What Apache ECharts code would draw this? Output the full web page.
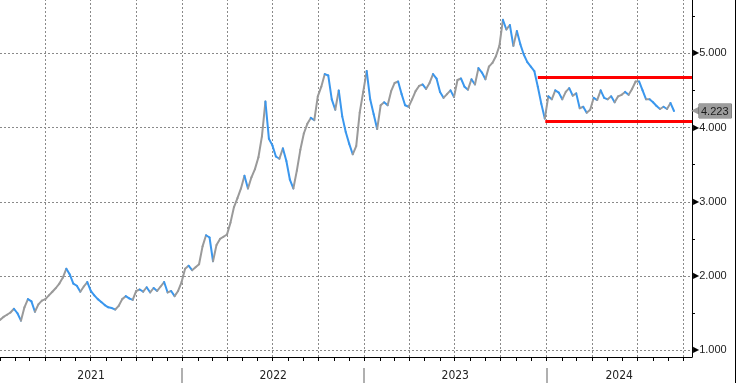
<!DOCTYPE html>
<html>
<head>
<meta charset="utf-8">
<script src="https://cdn.jsdelivr.net/npm/echarts@6/dist/echarts.min.js"></script>
<style>
html,body{margin:0;padding:0;background:#fff;}
#c{width:735px;height:383px;border-right:1px solid #000;}
</style>
</head>
<body>
<div id="c"></div>
<script>
// ---- data (weekly closes) ----
const startDate = [2021, 0, 1];
const endDate = [2024, 9, 19];
const stepDays = 7;
const values = [
1.41,1.45,1.48,1.51,1.56,1.50,1.40,1.58,1.69,1.66,
1.52,1.62,1.67,1.69,1.74,1.79,1.84,1.90,1.98,2.10,
2.02,1.90,1.87,1.79,1.86,1.92,1.80,1.74,1.69,1.65,
1.61,1.58,1.57,1.55,1.60,1.69,1.73,1.70,1.68,1.80,
1.82,1.79,1.85,1.78,1.84,1.80,1.86,1.92,1.78,1.80,
1.73,1.80,1.92,2.10,2.14,2.08,2.12,2.16,2.40,2.55,
2.52,2.20,2.42,2.50,2.53,2.56,2.72,2.93,3.05,3.18,
3.35,3.18,3.33,3.44,3.60,3.88,4.35,3.85,3.76,3.61,
3.58,3.72,3.55,3.30,3.18,3.42,3.70,3.92,4.05,4.13,
4.10,4.42,4.55,4.72,4.70,4.38,4.24,4.50,4.15,3.94,
3.78,3.64,3.75,4.20,4.48,4.76,4.38,4.18,3.98,4.30,
4.34,4.30,4.49,4.60,4.62,4.45,4.30,4.28,4.38,4.49,
4.56,4.58,4.52,4.60,4.72,4.66,4.48,4.40,4.45,4.50,
4.41,4.64,4.66,4.55,4.51,4.65,4.58,4.80,4.74,4.65,
4.82,4.87,4.96,5.10,5.45,5.32,5.38,5.10,5.30,5.12,
4.98,4.88,4.82,4.76,4.55,4.32,4.12,4.42,4.38,4.50,
4.47,4.38,4.48,4.53,4.43,4.46,4.26,4.28,4.20,4.24,
4.40,4.37,4.50,4.40,4.38,4.42,4.34,4.42,4.44,4.48,
4.44,4.52,4.62,4.62,4.50,4.38,4.38,4.34,4.29,4.25,
4.28,4.25,4.33,4.223
];
const yMin = 0.911, yMax = 5.717;
const yLabelValues = [1, 2, 3, 4, 5];
const yMinorValues = [1.5, 2.5, 3.5, 4.5, 5.5];
const years = [2021, 2022, 2023, 2024];
// red range lines: [start date, level]
const rangeLines = [
  [[2023, 11, 15], 4.68],
  [[2023, 11, 30], 4.09]
];

// ---- build ----
const d = a => new Date(a[0], a[1], a[2]).getTime();
const xMin = d(startDate), xMax = d(endDate);
const dates = values.map((v, k) => new Date(startDate[0], startDate[1], startDate[2] + k * stepDays).getTime());
const segs = [];
for (let i = 1; i < values.length; i++) segs.push([dates[i], values[i], dates[i-1], values[i-1]]);

const monthTicks = [];
for (let m = 0; ; m++) {
  const t = new Date(startDate[0], m, 1).getTime();
  if (t > xMax) break;
  monthTicks.push(t);
}
const quarterLines = monthTicks.filter((t, i) => i > 0 && i % 3 === 0);
const yearStarts = years.slice(1).map(y => new Date(y, 0, 1).getTime());
const yearMids = years.map(y => {
  const a = Math.max(new Date(y, 0, 1).getTime(), xMin);
  const b = Math.min(new Date(y + 1, 0, 1).getTime(), xMax);
  return (a + b) / 2;
});
const last = values[values.length - 1];

const chart = echarts.init(document.getElementById('c'), null, {renderer: 'canvas'});
const font = 'Liberation Sans, Arial, sans-serif';
const narrow = '"Liberation Sans Narrow", "DejaVu Sans Condensed", "Liberation Sans", sans-serif';

chart.setOption({
  animation: false,
  backgroundColor: '#fff',
  grid: {left: 0, right: 37, top: 0, bottom: 26, containLabel: false},
  xAxis: [
    {
      type: 'value', min: xMin, max: xMax, position: 'bottom', scale: true,
      axisLine: {show: true, lineStyle: {color: '#000', width: 1}},
      axisTick: {show: false},
      splitLine: {show: false},
      minorSplitLine: {show: false},
      axisLabel: {show: true, customValues: yearMids, margin: 13, fontSize: 12, fontFamily: narrow, color: '#222',
        formatter: v => String(new Date(v).getFullYear())}
    },
    {
      type: 'value', min: xMin, max: xMax, position: 'bottom', scale: true,
      offset: 11,
      axisLine: {show: false},
      axisTick: {show: true, length: 16, customValues: yearStarts, lineStyle: {color: '#b0b0b0', width: 2}},
      splitLine: {show: false},
      minorSplitLine: {show: false},
      axisLabel: {show: false}
    }
  ],
  yAxis: [
    {
      type: 'value', min: yMin, max: yMax, position: 'right', scale: true,
      axisLine: {show: true, lineStyle: {color: '#000', width: 1}},
      axisTick: {show: false, customValues: yLabelValues},
      axisLabel: {show: true, customValues: yLabelValues, margin: 1, fontFamily: font,
        formatter: v => '{a|\u25B6}{v|' + v.toFixed(3) + '}',
        rich: {a: {fontSize: 8, color: '#000', fontFamily: 'DejaVu Sans'}, v: {fontSize: 11, color: '#222', fontFamily: font}}},
      splitLine: {show: true, lineStyle: {color: '#8a8a8a', type: [2, 2], width: 1}}
    },
    {
      type: 'value', min: yMin, max: yMax, position: 'right', scale: true,
      axisLine: {show: false},
      axisTick: {show: true, length: 3, customValues: yMinorValues, lineStyle: {color: '#000'}},
      axisLabel: {show: false},
      splitLine: {show: false}
    },
    {
      type: 'value', min: yMin, max: yMax, position: 'right', scale: true,
      axisLine: {show: false},
      axisTick: {show: false},
      axisLabel: {show: true, customValues: [last], margin: -1, fontFamily: font,
        formatter: v => '{t|\u25C0}{b|' + v.toFixed(3) + '}',
        rich: {
          t: {fontSize: 13, color: '#9c9c9c', fontFamily: 'DejaVu Sans', padding: [0, -2, 0, 0]},
          b: {fontSize: 11, color: '#1a1a1a', backgroundColor: '#9c9c9c', borderColor: '#666', borderWidth: 0.5,
              padding: [2, 3, 1, 2], fontFamily: font}
        }},
      splitLine: {show: false}
    }
  ],
  series: [
    {
      // quarterly dotted grid lines
      type: 'custom',
      xAxisIndex: 0, yAxisIndex: 0,
      data: quarterLines.map(t => [t, yMin, yMax]),
      encode: {x: 0, y: [1, 2]},
      clip: true,
      silent: true,
      renderItem: (params, api) => {
        const a = api.coord([api.value(0), api.value(1)]);
        const b = api.coord([api.value(0), api.value(2)]);
        const x = Math.round(a[0]) + 0.5;
        return {type: 'line', shape: {x1: x, y1: a[1], x2: x, y2: b[1]},
          style: {stroke: '#8a8a8a', lineWidth: 1, lineDash: [2, 2]}};
      },
      z: 1
    },
    {
      // monthly ticks under the date axis
      type: 'custom',
      xAxisIndex: 0, yAxisIndex: 0,
      data: monthTicks.map(t => [t, yMin]),
      encode: {x: 0, y: 1},
      clip: false,
      silent: true,
      renderItem: (params, api) => {
        const p = api.coord([api.value(0), api.value(1)]);
        const x = Math.round(p[0]) + 0.5;
        return {type: 'line', shape: {x1: x, y1: p[1], x2: x, y2: p[1] + 4},
          style: {stroke: '#000', lineWidth: 1}};
      },
      z: 2
    },
    {
      type: 'custom',
      xAxisIndex: 0, yAxisIndex: 0,
      data: segs,
      encode: {x: [0, 2], y: [1, 3]},
      clip: true,
      renderItem: (params, api) => {
        const p2 = api.coord([api.value(0), api.value(1)]);
        const p1 = api.coord([api.value(2), api.value(3)]);
        const up = api.value(1) >= api.value(3);
        return {type: 'line', shape: {x1: p1[0], y1: p1[1], x2: p2[0], y2: p2[1]},
          style: {stroke: up ? '#9a9a9a' : '#3a97ee', lineWidth: 2, lineCap: 'round'}};
      },
      z: 3
    },
    {
      type: 'line',
      xAxisIndex: 0, yAxisIndex: 0,
      data: [],
      markLine: {
        silent: true, symbol: 'none',
        label: {show: false},
        lineStyle: {color: '#ff0000', width: 3, type: 'solid'},
        data: rangeLines.map(r => [{coord: [d(r[0]), r[1]]}, {coord: [xMax, r[1]]}])
      },
      z: 4
    }
  ]
});
</script>
</body>
</html>
